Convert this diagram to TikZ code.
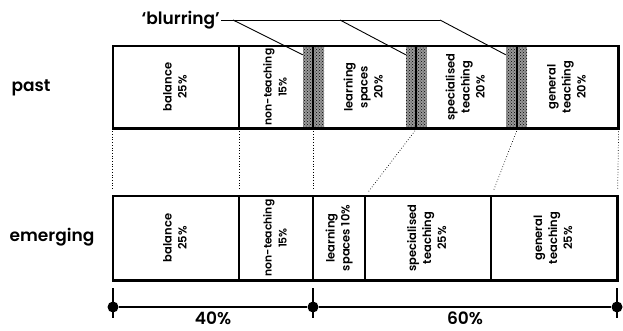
\documentclass[tikz,border=0pt]{standalone}
\usepackage{fontspec}
\setmainfont{Poppins}
\newfontfamily\lblfont{Poppins SemiBold}[Ligatures=TeX]
\usetikzlibrary{positioning,patterns}

\newcommand{\vtext}[1]{\rotatebox{90}{\begin{tabular}{@{}c@{}}#1\end{tabular}}}

\begin{document}
\begin{tikzpicture}[
    x=1pt, y=-1pt,
    cell/.style={
      rectangle,
      draw=black,
      line width=1.2pt,
      inner sep=0pt,
      font=\lblfont\fontsize{11.5}{15}\selectfont
    },
    pcell/.style={cell, minimum height=82pt},
    ecell/.style={cell, minimum height=84pt},
    small/.style={font=\lblfont\fontsize{10.8}{15}\selectfont},
    blur/.style={
      rectangle,
      draw=none,
      minimum width=21pt,
      minimum height=82pt,
      inner sep=0pt,
      fill=black!40,
      postaction={pattern=crosshatch dots, pattern color=black}
    },
    rowlbl/.style={font=\lblfont\fontsize{17}{20}\selectfont},
    guide/.style={dotted, line width=0.7pt},
    dot/.style={circle, fill=black, inner sep=0pt, minimum size=11pt}
  ]
  \useasboundingbox (0,0) rectangle (623,330);

  % hatched bands
  \node[blur] (h1) at (313.5,87) {};
  \node[blur] (h2) at (416.5,87) {};
  \node[blur] (h3) at (516.5,87) {};

  % past
  \node[pcell, minimum width=126pt] (pbal) at (176,87) {\vtext{balance\\25\%}};
  \node[pcell, small, minimum width=74pt] (pnon) at (276,87) {\vtext{non-teaching\\15\%}};
  \node[pcell, minimum width=103pt] (plrn) at (364.5,87) {\vtext{learning\\spaces\\20\%}};
  \node[pcell, minimum width=101pt] (pspe) at (466.5,87) {\vtext{specialised\\teaching\\20\%}};
  \node[pcell, minimum width=101pt] (pgen) at (567.5,87) {\vtext{general\\teaching\\20\%}};
  \draw[line width=1.8pt] (pbal.north west) rectangle (pgen.south east);

  % emerging
  \node[ecell, minimum width=126pt] (ebal) at (176,238) {\vtext{balance\\25\%}};
  \node[ecell, small, minimum width=74pt] (enon) at (276,238) {\vtext{non-teaching\\15\%}};
  \node[ecell, minimum width=52pt] (elrn) at (339,238) {\vtext{learning\\spaces 10\%}};
  \node[ecell, minimum width=126pt] (espe) at (428,238) {\vtext{specialised\\teaching\\25\%}};
  \node[ecell, minimum width=126pt] (egen) at (554,238) {\vtext{general\\teaching\\25\%}};
  \draw[line width=1.8pt] (ebal.north west) rectangle (egen.south east);

  \node[rowlbl] (past) at (31,88) {past};
  \node[rowlbl] (emerg) at (52,237) {emerging};

  \draw[guide, shorten >=5pt] (pbal.south west) -- (ebal.north west);
  \draw[guide, shorten >=5pt] (pbal.south east) -- (ebal.north east);
  \draw[guide, shorten >=5pt] (pnon.south east) -- (enon.north east);
  \draw[guide, shorten >=5pt] (pgen.south east) -- (egen.north east);
  \draw[guide, shorten >=5pt] (plrn.south east) -- (elrn.north east);
  \draw[guide, shorten >=5pt] (pspe.south east) -- (espe.north east);

  % blurring
  \node[rowlbl, anchor=east, inner sep=1pt] (blr) at (221,20) {‘blurring’};
  \coordinate (k1) at (233,20);
  \coordinate (k2) at (340,20);
  \coordinate (k3) at (440,20);
  \draw[line width=0.9pt] (blr.east) -- (k3);
  \draw[line width=0.9pt] (k1) -- ([yshift=-9pt]h1.north west);
  \draw[line width=0.9pt] (k2) -- ([yshift=-9pt]h2.north west);
  \draw[line width=0.9pt] (k3) -- ([yshift=-9pt]h3.north west);

  % scale
  \node[dot] (d1) at (113,307) {};
  \node[dot] (d2) at (313,307) {};
  \node[dot] (d3) at (617,307) {};
  \draw[line width=1.4pt] (d1) -- (d2) -- (d3);
  \foreach \d in {d1,d2,d3}
    \draw[line width=1.4pt] ([yshift=19pt]\d.center) -- ([yshift=-11pt]\d.center);
  \node[rowlbl, anchor=base, inner sep=0pt] (p40) at (213,324) {40\%};
  \node[rowlbl, anchor=base, inner sep=0pt] (p60) at (465,324) {60\%};
\end{tikzpicture}
\end{document}
